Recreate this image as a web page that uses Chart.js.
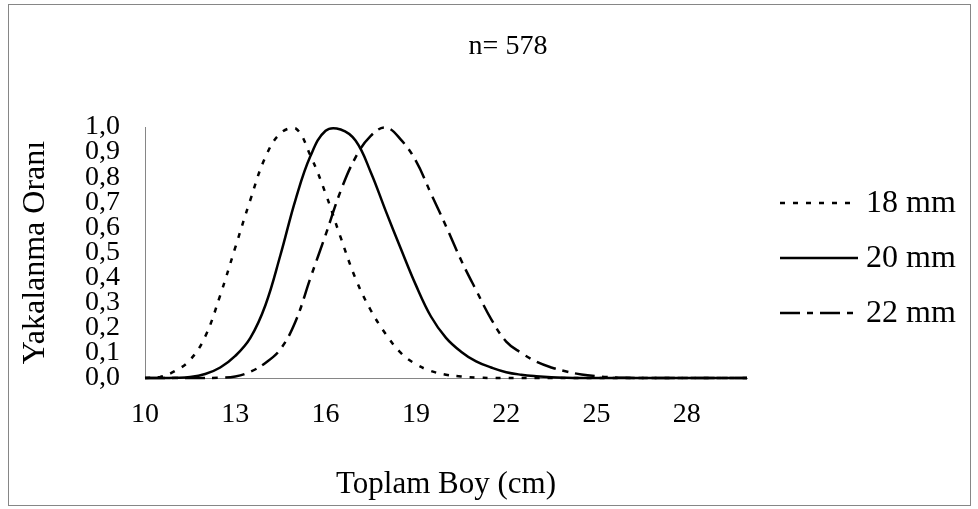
<!DOCTYPE html>
<html>
<head>
<meta charset="utf-8">
<title>Yakalanma Oranı</title>
<script src="https://cdn.jsdelivr.net/npm/chart.js@4"></script>
<style>
  html, body { margin: 0; background: #fff; }
  #frame {
    position: absolute; left: 8px; top: 4px;
    width: 961px; height: 500px;
    border: 1px solid #868686;
  }
</style>
</head>
<body>
<div id="frame"><canvas id="selChart"></canvas></div>
<script>
// toplam boy (cm)
const boy = [10, 10.5, 11, 11.5, 12, 12.5, 13, 13.5, 14, 14.5, 15, 15.5, 16, 16.5, 17, 17.5,
  18, 18.5, 19, 19.5, 20, 20.5, 21, 21.5, 22, 22.5, 23, 23.5, 24, 24.5, 25, 25.5,
  26, 26.5, 27, 27.5, 28, 28.5, 29, 29.5, 30];

// yakalanma oranı, göz açıklığına göre
const mm18 = [0, 0.004, 0.028, 0.072, 0.165, 0.33, 0.52, 0.71, 0.88, 0.975, 0.995, 0.885,
  0.735, 0.56, 0.395, 0.27, 0.175, 0.10, 0.055, 0.028, 0.013, 0.006, 0.002, 0, 0, 0,
  0, 0, 0, 0, 0, 0, 0, 0, 0, 0, 0, 0, 0, 0, 0];
const mm20 = [0, 0, 0.001, 0.004, 0.016, 0.042, 0.088, 0.16, 0.29, 0.49, 0.71, 0.885,
  0.985, 0.99, 0.945, 0.82, 0.665, 0.515, 0.37, 0.245, 0.16, 0.105, 0.066, 0.042, 0.023,
  0.013, 0.007, 0.003, 0.001, 0, 0, 0, 0, 0, 0, 0, 0, 0, 0, 0, 0];
const mm22 = [0, 0, 0, 0, 0, 0.001, 0.006, 0.025, 0.06, 0.115, 0.225, 0.40, 0.57, 0.745,
  0.88, 0.965, 0.998, 0.95, 0.865, 0.735, 0.605, 0.47, 0.35, 0.235, 0.145, 0.10, 0.065,
  0.042, 0.026, 0.014, 0.007, 0.003, 0.001, 0, 0, 0, 0, 0, 0, 0, 0];

const seriesNames = ['18 mm', '20 mm', '22 mm'];
const xTicks = [10, 13, 16, 19, 22, 25, 28];
const yTicks = [0, 0.1, 0.2, 0.3, 0.4, 0.5, 0.6, 0.7, 0.8, 0.9, 1];
const yTickLabels = ['0,0', '0,1', '0,2', '0,3', '0,4', '0,5', '0,6', '0,7', '0,8', '0,9', '1,0'];
const chartTitle = 'n= 578';
const xTitle = 'Toplam Boy (cm)';
const yTitle = 'Yakalanma Oranı';

const serif = '"Liberation Serif", "Times New Roman", serif';
const axisGray = '#868686';

const toPoints = vals => vals.map((v, i) => ({ x: boy[i], y: v }));

const lineStyle = (dash) => ({
  borderColor: '#000',
  backgroundColor: '#000',
  borderWidth: 2.5,
  borderDash: dash,
  pointRadius: 0,
  pointHoverRadius: 0,
  tension: 0.4,
  fill: false,
  clip: false
});

// başlık ve sağdaki açıklama (çizgi örneği + etiket)
const decorPlugin = {
  id: 'decor',
  afterDraw(chart) {
    const { ctx, chartArea } = chart;
    ctx.save();
    ctx.fillStyle = '#000';
    ctx.font = '28px ' + serif;
    ctx.textAlign = 'center';
    ctx.textBaseline = 'middle';
    ctx.fillText(chartTitle, 499, 42);

    const x0 = chartArea.right + 33;
    const x1 = x0 + 78;
    ctx.font = '32px ' + serif;
    ctx.textAlign = 'left';
    chart.data.datasets.forEach((ds, i) => {
      const y = 198 + i * 55;
      ctx.save();
      ctx.strokeStyle = ds.borderColor;
      ctx.lineWidth = ds.borderWidth;
      ctx.setLineDash(ds.borderDash);
      ctx.beginPath();
      ctx.moveTo(x0, y);
      ctx.lineTo(x1, y);
      ctx.stroke();
      ctx.restore();
      ctx.fillText(ds.label, x1 + 8, y + 1);
    });
    ctx.restore();
  }
};

new Chart(document.getElementById('selChart'), {
  type: 'line',
  data: {
    datasets: [
      { label: seriesNames[0], data: toPoints(mm18), ...lineStyle([5, 8]) },
      { label: seriesNames[1], data: toPoints(mm20), ...lineStyle([]) },
      { label: seriesNames[2], data: toPoints(mm22), ...lineStyle([20, 7, 6, 7]) }
    ]
  },
  plugins: [decorPlugin],
  options: {
    responsive: true,
    maintainAspectRatio: false,
    animation: false,
    layout: { padding: { top: 122, right: 223, bottom: 0, left: 0 } },
    plugins: {
      tooltip: { enabled: false },
      legend: { display: false }
    },
    scales: {
      x: {
        type: 'linear',
        min: 10,
        max: 30,
        afterBuildTicks: s => { s.ticks = xTicks.map(v => ({ value: v })); },
        afterFit: s => { s.height = 127; },
        grid: { display: false, drawTicks: false },
        border: { display: true, color: axisGray, width: 1 },
        ticks: { color: '#000', padding: 20, maxRotation: 0, font: { family: serif, size: 28 } },
        title: { display: true, text: xTitle, color: '#000', padding: { top: 0, bottom: 2 }, font: { family: serif, size: 31 } }
      },
      y: {
        min: 0,
        max: 1,
        afterBuildTicks: s => { s.ticks = yTicks.map(v => ({ value: v })); },
        afterFit: s => { s.width = 136; },
        grid: { display: false, drawTicks: false },
        border: { display: true, color: axisGray, width: 1 },
        ticks: {
          color: '#000',
          padding: 25,
          autoSkip: false,
          font: { family: serif, size: 28 },
          callback: (v, i) => yTickLabels[i]
        },
        title: { display: true, text: yTitle, color: '#000', padding: { top: 7, bottom: 0 }, font: { family: serif, size: 32 } }
      }
    }
  }
});
</script>
</body>
</html>
